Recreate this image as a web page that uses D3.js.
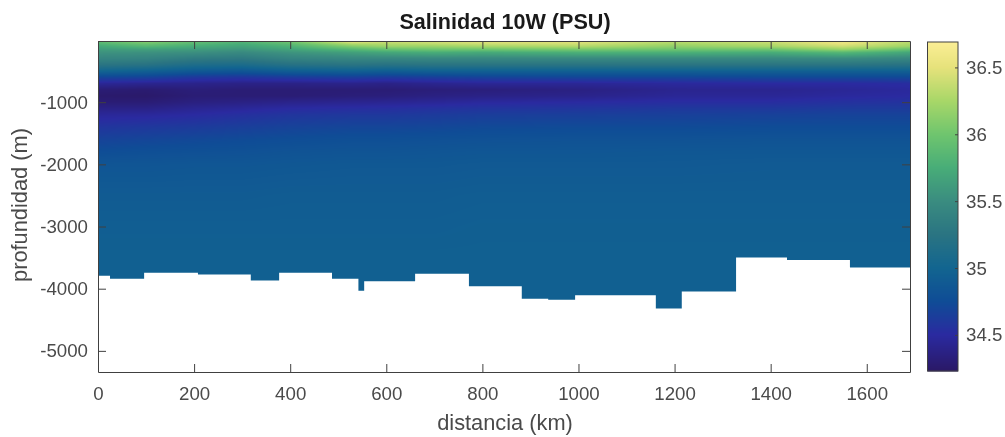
<!DOCTYPE html>
<html lang="en">
<head>
<meta charset="UTF-8">
<title>Salinidad 10W (PSU)</title>
<script src="https://d3js.org/d3.v7.min.js"></script>
<style>
    html, body { margin: 0; padding: 0; background: #fff; }
    #chart { position: relative; width: 1005px; height: 437px; overflow: hidden; }
    canvas, svg { position: absolute; left: 0; top: 0; }
    text { font-family: "Liberation Sans", Arial, sans-serif; }
</style>
</head>
<body>
<div id="chart">
    <canvas id="field" width="1005" height="437"></canvas>
    <svg id="plot" width="1005" height="437"></svg>
</div>
<script>
// section grid
const stations = [0, 100, 200, 300, 400, 530, 600, 700, 800, 1000, 1200, 1400, 1550, 1690];
const depths = [0, 30, 60, 100, 150, 200, 300, 400, 500, 600, 700, 800, 900, 1000, 1100, 1200, 1400, 1600, 1800, 2000, 2500, 3000, 3500, 4400];
const salinity = [
    [35.95, 36.15, 35.95, 35.85, 36.05, 36.55, 36.45, 36.45, 36.50, 36.50, 36.35, 36.42, 36.58, 36.35],
    [35.90, 36.10, 35.92, 35.82, 36.00, 36.50, 36.40, 36.42, 36.48, 36.48, 36.32, 36.40, 36.56, 36.32],
    [35.82, 35.98, 35.85, 35.75, 35.90, 36.30, 36.30, 36.35, 36.40, 36.42, 36.25, 36.33, 36.52, 36.28],
    [35.72, 35.85, 35.75, 35.68, 35.80, 36.10, 36.20, 36.20, 36.25, 36.30, 36.15, 36.25, 36.40, 36.20],
    [35.62, 35.65, 35.62, 35.58, 35.68, 35.85, 35.95, 36.00, 36.00, 36.05, 36.00, 36.00, 36.20, 35.95],
    [35.55, 35.54, 35.52, 35.47, 35.56, 35.65, 35.70, 35.75, 35.72, 35.78, 35.78, 35.75, 35.85, 35.70],
    [35.42, 35.40, 35.32, 35.30, 35.40, 35.44, 35.44, 35.45, 35.45, 35.46, 35.46, 35.46, 35.48, 35.44],
    [35.25, 35.22, 35.12, 35.10, 35.20, 35.24, 35.22, 35.24, 35.24, 35.24, 35.25, 35.25, 35.25, 35.22],
    [35.00, 34.95, 34.88, 34.85, 34.92, 34.95, 34.92, 34.95, 34.95, 34.95, 34.95, 34.95, 34.95, 34.95],
    [34.70, 34.68, 34.60, 34.58, 34.62, 34.65, 34.62, 34.65, 34.68, 34.70, 34.70, 34.72, 34.72, 34.72],
    [34.45, 34.42, 34.40, 34.38, 34.38, 34.40, 34.38, 34.42, 34.45, 34.45, 34.48, 34.50, 34.50, 34.52],
    [34.30, 34.28, 34.32, 34.30, 34.30, 34.30, 34.30, 34.32, 34.33, 34.36, 34.42, 34.42, 34.45, 34.48],
    [34.26, 34.25, 34.30, 34.30, 34.30, 34.32, 34.33, 34.36, 34.38, 34.40, 34.45, 34.45, 34.48, 34.50],
    [34.30, 34.30, 34.35, 34.37, 34.40, 34.42, 34.43, 34.45, 34.48, 34.50, 34.52, 34.52, 34.55, 34.56],
    [34.38, 34.38, 34.43, 34.46, 34.50, 34.52, 34.53, 34.55, 34.57, 34.58, 34.60, 34.60, 34.62, 34.62],
    [34.46, 34.47, 34.50, 34.54, 34.58, 34.60, 34.60, 34.62, 34.64, 34.65, 34.66, 34.67, 34.68, 34.68],
    [34.58, 34.60, 34.62, 34.65, 34.68, 34.70, 34.70, 34.71, 34.73, 34.74, 34.74, 34.75, 34.75, 34.75],
    [34.68, 34.70, 34.72, 34.74, 34.76, 34.78, 34.78, 34.79, 34.80, 34.81, 34.81, 34.82, 34.82, 34.82],
    [34.76, 34.78, 34.79, 34.80, 34.82, 34.83, 34.83, 34.84, 34.85, 34.85, 34.86, 34.86, 34.86, 34.86],
    [34.84, 34.84, 34.85, 34.85, 34.86, 34.87, 34.87, 34.87, 34.88, 34.88, 34.88, 34.89, 34.89, 34.89],
    [34.90, 34.90, 34.90, 34.90, 34.91, 34.91, 34.91, 34.91, 34.92, 34.92, 34.92, 34.92, 34.92, 34.92],
    [34.93, 34.93, 34.93, 34.93, 34.93, 34.93, 34.93, 34.93, 34.94, 34.94, 34.94, 34.94, 34.94, 34.94],
    [34.95, 34.95, 34.95, 34.95, 34.95, 34.95, 34.95, 34.95, 34.95, 34.95, 34.95, 34.95, 34.95, 34.95],
    [34.95, 34.95, 34.95, 34.95, 34.95, 34.95, 34.95, 34.95, 34.95, 34.95, 34.95, 34.95, 34.95, 34.95]
];

// sea floor: each depth holds from its km up to the next one
const floorKm = [0, 25, 96, 208, 318, 377, 487, 542, 554, 660, 772, 882, 937, 993, 1161, 1215, 1328, 1434, 1565, 1690];
const floorDepth = [3790, 3839, 3742, 3770, 3870, 3742, 3839, 4032, 3880, 3758, 3960, 4160, 4177, 4105, 4318, 4044, 3500, 3540, 3661, 3661];

const xTicks = [0, 200, 400, 600, 800, 1000, 1200, 1400, 1600];
const yTicks = [-1000, -2000, -3000, -4000, -5000];
const barTicks = [34.5, 35, 35.5, 36, 36.5];

const colorValues = [34.23, 34.5, 34.75, 35, 35.25, 35.5, 35.75, 36, 36.25, 36.5, 36.69];
const colorStops = ["#2a1866", "#2a2aa0", "#0f4c96", "#126590", "#2a7482", "#3a8c80", "#48ad78", "#6fc56e", "#a8d768", "#e6e27b", "#fbee95"];

const box = { left: 98, right: 910, top: 41, bottom: 372 };
const bar = { left: 927.5, right: 958, top: 42, bottom: 371 };

const x = d3.scaleLinear().domain([0, 1690]).range([box.left, box.right]);
const y = d3.scaleLinear().domain([-5340, -16]).range([box.bottom, box.top]);
const color = d3.scaleLinear().domain(colorValues).range(colorStops).interpolate(d3.interpolateRgb).clamp(true);
const barY = d3.scaleLinear().domain([34.23, 36.69]).range([bar.bottom, bar.top]);

// pixel -> fractional grid index, like shading interp
const colAt = d3.scaleLinear().domain(stations).range(d3.range(stations.length)).clamp(true);
const rowAt = d3.scaleLinear().domain(depths).range(d3.range(depths.length)).clamp(true);

function valueAt(km, depth) {
    const c = colAt(km), r = rowAt(depth);
    const c0 = Math.min(Math.floor(c), stations.length - 2), r0 = Math.min(Math.floor(r), depths.length - 2);
    const tc = c - c0, tr = r - r0;
    const top = salinity[r0][c0] * (1 - tc) + salinity[r0][c0 + 1] * tc;
    const low = salinity[r0 + 1][c0] * (1 - tc) + salinity[r0 + 1][c0 + 1] * tc;
    return top * (1 - tr) + low * tr;
}

const ctx = document.getElementById("field").getContext("2d");
for (let px = box.left; px < box.right; px++) {
    for (let py = box.top; py < box.bottom; py++) {
        const depth = -y.invert(py + 0.5);
        if (depth > 4500) continue;
        ctx.fillStyle = color(valueAt(x.invert(px + 0.5), depth));
        ctx.fillRect(px, py, 1, 1);
    }
}

const svg = d3.select("#plot");

// white sea floor over the field
const floorArea = d3.area()
    .x(d => x(d[0]))
    .y0(box.bottom)
    .y1(d => y(-d[1]))
    .curve(d3.curveStepAfter);
svg.append("path")
    .datum(d3.zip(floorKm, floorDepth))
    .attr("d", floorArea)
    .attr("fill", "#fff");

const axisColor = "#404040";
const textColor = "#4a4a4a";
const tickFont = 18.7;
const labelFont = 21.8;

function styleAxis(g) {
    g.selectAll(".domain").attr("stroke", axisColor).attr("stroke-width", 1);
    g.selectAll(".tick line").attr("stroke", axisColor).attr("stroke-width", 1);
    g.selectAll("text").attr("fill", textColor).attr("font-size", tickFont).attr("font-family", '"Liberation Sans", Arial, sans-serif');
}

svg.append("g").attr("transform", `translate(0,${box.bottom})`)
    .call(d3.axisBottom(x).tickValues(xTicks).tickFormat(d3.format("d")).tickSize(-8).tickSizeOuter(0).tickPadding(15))
    .call(styleAxis);
svg.append("g").attr("transform", `translate(0,${box.top})`)
    .call(d3.axisTop(x).tickValues(xTicks).tickFormat("").tickSize(-8).tickSizeOuter(0))
    .call(styleAxis);
svg.append("g").attr("transform", `translate(${box.left},0)`)
    .call(d3.axisLeft(y).tickValues(yTicks).tickFormat(d => String(d)).tickSize(-8).tickSizeOuter(0).tickPadding(10))
    .call(styleAxis);
svg.append("g").attr("transform", `translate(${box.right},0)`)
    .call(d3.axisRight(y).tickValues(yTicks).tickFormat("").tickSize(-8).tickSizeOuter(0))
    .call(styleAxis);

// colorbar
const barRows = d3.range(bar.top, bar.bottom);
svg.append("g").selectAll("rect")
    .data(barRows)
    .join("rect")
    .attr("x", bar.left)
    .attr("y", d => d)
    .attr("width", bar.right - bar.left)
    .attr("height", 1.5)
    .attr("fill", d => color(barY.invert(d + 0.5)));
svg.append("rect")
    .attr("x", bar.left).attr("y", bar.top)
    .attr("width", bar.right - bar.left).attr("height", bar.bottom - bar.top)
    .attr("fill", "none").attr("stroke", axisColor);
svg.append("g").attr("transform", `translate(${bar.right},0)`)
    .call(d3.axisRight(barY).tickValues(barTicks).tickFormat(d => String(d)).tickSize(-3).tickSizeOuter(0).tickPadding(8))
    .call(styleAxis)
    .call(g => g.select(".domain").remove());

svg.append("text")
    .attr("x", 505).attr("y", 29)
    .attr("text-anchor", "middle")
    .attr("font-size", 21.6).attr("font-weight", "bold").attr("fill", "#1a1a1a")
    .text("Salinidad 10W (PSU)");
svg.append("text")
    .attr("x", 505).attr("y", 430)
    .attr("text-anchor", "middle")
    .attr("font-size", labelFont).attr("fill", textColor)
    .text("distancia (km)");
svg.append("text")
    .attr("transform", "translate(27,205) rotate(-90)")
    .attr("text-anchor", "middle")
    .attr("font-size", labelFont).attr("fill", textColor)
    .text("profundidad (m)");
</script>
</body>
</html>
